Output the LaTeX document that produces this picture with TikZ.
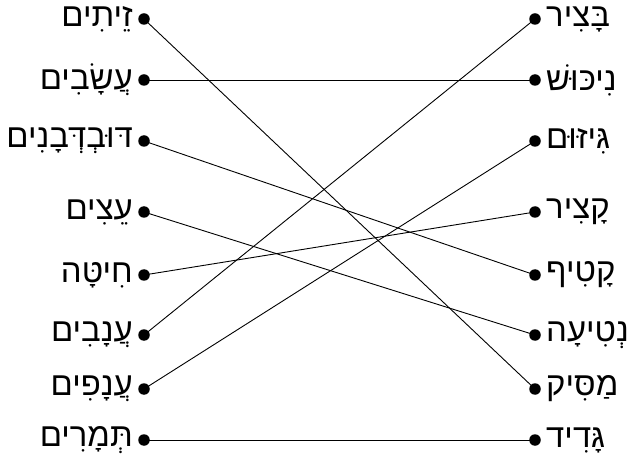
\documentclass[tikz,border=0pt]{standalone}
\usepackage{fontspec}
\newfontfamily\hebfont[Script=Hebrew]{Liberation Sans}
\TeXXeTstate=1
\begin{document}
\begin{tikzpicture}[x=1bp,y=-1bp,
  dotnode/.style={circle,fill=black,inner sep=0pt,minimum size=11.5bp},
  leftlbl/.style={anchor=east,inner sep=0pt,font=\hebfont\fontsize{33}{38}\selectfont},
  rightlbl/.style={anchor=west,inner sep=0pt,font=\hebfont\fontsize{33}{38}\selectfont},
  link/.style={draw=black,line width=0.9bp}]
\useasboundingbox (0,0) rectangle (629,461);
% left dots
\node[dotnode] (l1) at (144,19) {};
\node[dotnode] (l2) at (144,80) {};
\node[dotnode] (l3) at (144,141) {};
\node[dotnode] (l4) at (144,212) {};
\node[dotnode] (l5) at (144,275) {};
\node[dotnode] (l6) at (144,335) {};
\node[dotnode] (l7) at (144,389) {};
\node[dotnode] (l8) at (144,440) {};
% right dots
\node[dotnode] (r1) at (535,19) {};
\node[dotnode] (r2) at (535,80) {};
\node[dotnode] (r3) at (535,141) {};
\node[dotnode] (r4) at (535,212) {};
\node[dotnode] (r5) at (535,275) {};
\node[dotnode] (r6) at (535,335) {};
\node[dotnode] (r7) at (535,389) {};
\node[dotnode] (r8) at (535,440) {};
% left labels
\node[leftlbl] (a1) at (133,19) {\beginR זֵיתִים\endR};
\node[leftlbl] (a2) at (133,80) {\beginR עֲשָׂבִים\endR};
\node[leftlbl] (a3) at (133,141) {\beginR דּוּבְדְּבָנִים\endR};
\node[leftlbl] (a4) at (133,212) {\beginR עֵצִים\endR};
\node[leftlbl] (a5) at (133,275) {\beginR חִיטָּה\endR};
\node[leftlbl] (a6) at (133,335) {\beginR עֲנָבִים\endR};
\node[leftlbl] (a7) at (133,389) {\beginR עֲנָפִים\endR};
\node[leftlbl] (a8) at (133,440) {\beginR תְּמָרִים\endR};
% right labels
\node[rightlbl] (b1) at (546,19) {\beginR בָּצִיר\endR};
\node[rightlbl] (b2) at (546,80) {\beginR נִיכּוּשׁ\endR};
\node[rightlbl] (b3) at (546,141) {\beginR גִּיזּוּם\endR};
\node[rightlbl] (b4) at (546,212) {\beginR קָצִיר\endR};
\node[rightlbl] (b5) at (546,275) {\beginR קָטִיף\endR};
\node[rightlbl] (b6) at (546,335) {\beginR נְטִיעָה\endR};
\node[rightlbl] (b7) at (546,389) {\beginR מַסִּיק\endR};
\node[rightlbl] (b8) at (546,440) {\beginR גָּדִיד\endR};
% links
\draw[link] (l1.center) -- (r7.center);
\draw[link] (l2.center) -- (r2.center);
\draw[link] (l3.center) -- (r5.center);
\draw[link] (l4.center) -- (r6.center);
\draw[link] (l5.center) -- (r4.center);
\draw[link] (l6.center) -- (r1.center);
\draw[link] (l7.center) -- (r3.center);
\draw[link] (l8.center) -- (r8.center);
\end{tikzpicture}
\end{document}
